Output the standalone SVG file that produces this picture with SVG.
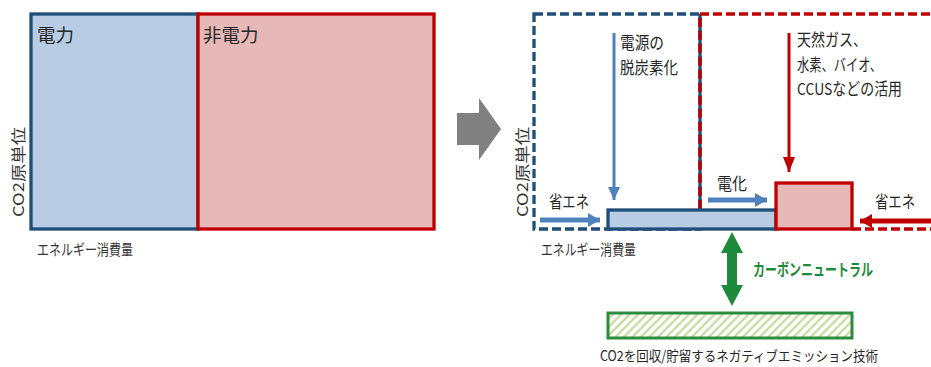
<svg xmlns="http://www.w3.org/2000/svg" width="931" height="367" viewBox="0 0 931 367">
<style>
.t{font-family:"Noto Sans CJK JP","Noto Sans",sans-serif;fill:#262626}
.ax{font-family:"Noto Sans CJK JP","Noto Sans",sans-serif;fill:#333333;font-size:15px}
.lab{font-size:16.5px}
.big{font-size:18.5px}
.bfill{fill:#B8CCE4;stroke:#1F4E79;stroke-width:3.3}
.rfill{fill:#E6B8B7;stroke:#C00000;stroke-width:3.3}
.bd{fill:none;stroke:#1F4E79;stroke-width:3.3;stroke-dasharray:9 4}
.rd{fill:none;stroke:#C00000;stroke-width:3.3;stroke-dasharray:9 4}
.ba{stroke:#4F81BD;stroke-width:3}
.bah{stroke:#4F81BD;stroke-width:5}
.ra{stroke:#C00000;stroke-width:3}
.rah{stroke:#C00000;stroke-width:5}
</style>
<defs>
<marker id="mBlueV" markerUnits="userSpaceOnUse" markerWidth="13" markerHeight="12" refX="13" refY="6" orient="auto" viewBox="0 0 13 12"><path d="M0,0 L13,6 L0,12 Z" fill="#4F81BD"/></marker>
<marker id="mBlueH" markerUnits="userSpaceOnUse" markerWidth="12" markerHeight="14" refX="12" refY="7" orient="auto" viewBox="0 0 12 14"><path d="M0,0 L12,7 L0,14 Z" fill="#4F81BD"/></marker>
<marker id="mRedV" markerUnits="userSpaceOnUse" markerWidth="15" markerHeight="12" refX="15" refY="6" orient="auto" viewBox="0 0 15 12"><path d="M0,0 L15,6 L0,12 Z" fill="#C00000"/></marker>
<marker id="mRedH" markerUnits="userSpaceOnUse" markerWidth="12" markerHeight="14" refX="12" refY="7" orient="auto" viewBox="0 0 12 14"><path d="M0,0 L12,7 L0,14 Z" fill="#C00000"/></marker>
<pattern id="hatch" patternUnits="userSpaceOnUse" width="6" height="6" patternTransform="rotate(45)">
<rect width="6" height="6" fill="#ffffff"/>
<line x1="1.5" y1="0" x2="1.5" y2="6" stroke="#C4D79B" stroke-width="2.2"/>
</pattern>
</defs>

<g id="left-panel">
<g id="left-power">
<rect class="bfill" x="31" y="14" width="167" height="215"/>
<text class="t big" x="37" y="42">電力</text>
</g>
<g id="left-nonpower">
<rect class="rfill" x="198" y="14" width="236" height="215"/>
<text class="t big" x="203" y="42">非電力</text>
</g>
<text class="ax" transform="translate(24,217) rotate(-90)" textLength="90" lengthAdjust="spacingAndGlyphs">CO2原単位</text>
<text class="ax" x="37" y="255" textLength="96" lengthAdjust="spacingAndGlyphs">エネルギー消費量</text>
</g>

<g id="transition-arrow">
<polygon points="457,113 479,113 479,98 501,129 479,160 479,145 457,145" fill="#808080"/>
</g>

<g id="right-panel">
<g id="power-frame">
<rect class="bd" x="534" y="14" width="166" height="215"/>
<line x1="700" y1="14" x2="700" y2="209" stroke="#1F4E79" stroke-width="3.3"/>
</g>
<g id="nonpower-frame">
<path class="rd" d="M700,209 L700,14 L940,14 M852,229 L940,229"/>
</g>
<g id="power-box">
<rect class="bfill" x="608" y="210" width="168" height="19"/>
</g>
<g id="nonpower-box">
<rect class="rfill" x="776" y="183" width="76" height="46"/>
</g>
<g id="negative-emission">
<rect x="608" y="313" width="244" height="25" fill="url(#hatch)" stroke="#2E8B3E" stroke-width="3"/>
<text class="t" font-size="14" x="600" y="361" textLength="278" lengthAdjust="spacingAndGlyphs">CO2を回収/貯留するネガティブエミッション技術</text>
</g>
<text class="ax" transform="translate(528,217) rotate(-90)" textLength="90" lengthAdjust="spacingAndGlyphs">CO2原単位</text>
<text class="ax" x="541" y="255" textLength="95" lengthAdjust="spacingAndGlyphs">エネルギー消費量</text>
</g>

<g id="connectors">
<line class="ba" x1="614" y1="33" x2="614" y2="200" marker-end="url(#mBlueV)"/>
<line class="ra" x1="789" y1="33" x2="789" y2="172" marker-end="url(#mRedV)"/>
<line class="bah" x1="708" y1="200" x2="767" y2="200" marker-end="url(#mBlueH)"/>
<line class="bah" x1="540" y1="220" x2="600" y2="220" marker-end="url(#mBlueH)"/>
<line class="rah" x1="931" y1="221" x2="860" y2="221" marker-end="url(#mRedH)"/>
<polygon points="732,232 743,253 737,253 737,285 743,285 732,306 721,285 727,285 727,253 721,253" fill="#1E8A3C"/>
</g>

<g id="labels">
<text class="t lab" x="620" y="49" textLength="44" lengthAdjust="spacingAndGlyphs">電源の</text>
<text class="t lab" x="620" y="74" textLength="58" lengthAdjust="spacingAndGlyphs">脱炭素化</text>
<text class="t lab" x="797" y="46" textLength="70" lengthAdjust="spacingAndGlyphs">天然ガス、</text>
<text class="t lab" x="797" y="71" textLength="85" lengthAdjust="spacingAndGlyphs">水素、バイオ、</text>
<text class="t lab" x="797" y="95" textLength="105" lengthAdjust="spacingAndGlyphs">CCUSなどの活用</text>
<text class="t lab" x="717" y="190" textLength="30" lengthAdjust="spacingAndGlyphs">電化</text>
<text class="t lab" x="549" y="208" textLength="40" lengthAdjust="spacingAndGlyphs">省エネ</text>
<text class="t lab" x="875" y="208" textLength="40" lengthAdjust="spacingAndGlyphs">省エネ</text>
<text x="753" y="276" font-family="Noto Sans CJK JP,Noto Sans,sans-serif" font-size="16.5" font-weight="bold" fill="#1E8A3C" textLength="120" lengthAdjust="spacingAndGlyphs">カーボンニュートラル</text>
</g>
</svg>
